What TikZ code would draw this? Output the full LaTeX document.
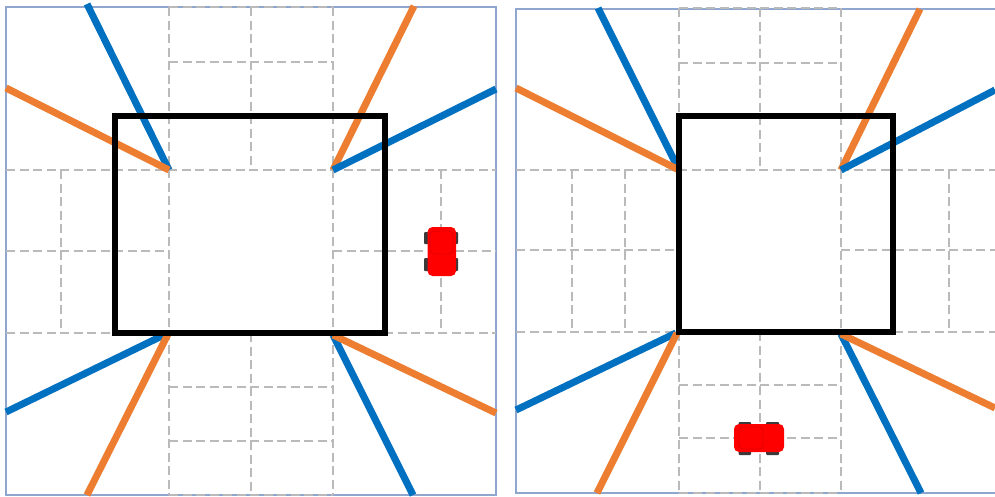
\documentclass[tikz,border=0pt]{standalone}
\definecolor{myblue}{HTML}{0070C0}
\definecolor{myorange}{HTML}{ED7D31}
\definecolor{myframe}{HTML}{8FA6CF}
\definecolor{mydash}{HTML}{BABABA}
\definecolor{mytyre}{HTML}{3A3A3A}
\definecolor{mycabin}{HTML}{E00000}
\tikzset{
  x=1pt,y=-1pt,
  panelframe/.style={draw=myframe,line width=1.3pt},
  grid line/.style={draw=mydash,line width=1.8pt,dash pattern=on 9pt off 4.5pt},
  building/.style={draw=black,line width=5.8pt,line join=miter},
  blue ray/.style={draw=myblue,line width=7pt},
  orange ray/.style={draw=myorange,line width=7pt},
  tyre/.style={fill=mytyre,rounded corners=1pt},
  car body/.style={fill=red,rounded corners=5pt},
  cabin/.style={draw=mycabin,line width=0.8pt,rounded corners=4pt}
}
\begin{document}
\begin{tikzpicture}
\useasboundingbox (0,0) rectangle (995,496);
\fill[white] (0,0) rectangle (995,496);
\clip (0,0) rectangle (995,496);
% ---------- left panel ----------
\draw[panelframe] (6,7) rectangle (496,495);
\draw[grid line] (6,170) -- (496,170);
\draw[grid line] (6,333) -- (496,333);
\draw[grid line] (6,251) -- (169,251);
\draw[grid line] (333,251) -- (496,251);
\draw[grid line] (169,7) -- (169,495);
\draw[grid line] (333,7) -- (333,495);
\draw[grid line] (251,7) -- (251,170);
\draw[grid line] (251,333) -- (251,495);
\draw[grid line] (169,7) -- (333,7);
\draw[grid line] (169,62) -- (333,62);
\draw[grid line] (169,387) -- (333,387);
\draw[grid line] (169,441) -- (333,441);
\draw[grid line] (169,495) -- (333,495);
\draw[grid line] (61,170) -- (61,333);
\draw[grid line] (441,170) -- (441,333);
\draw[blue ray] (87,4) -- (169,170);
\draw[orange ray] (6,88) -- (169,170);
\draw[orange ray] (414,6) -- (333,170);
\draw[blue ray] (496,89) -- (333,170);
\draw[blue ray] (6,412) -- (166,334);
\draw[orange ray] (87,495) -- (168,334);
\draw[blue ray] (413,495) -- (333,335);
\draw[orange ray] (496,413) -- (333,335);
\draw[building] (115,116) rectangle (385,333);
% car, left panel
\fill[tyre] (424,232) rectangle (458,244);
\fill[tyre] (424,258) rectangle (458,271);
\fill[car body] (427.5,227) rectangle (456,276);
\draw[cabin] (430,231) rectangle (453,254);
% ---------- right panel ----------
\draw[panelframe] (516,9) rectangle (1000,493);
\draw[grid line] (516,170) -- (995,170);
\draw[grid line] (516,332) -- (995,332);
\draw[grid line] (516,250) -- (679,250);
\draw[grid line] (841,250) -- (995,250);
\draw[grid line] (679,8) -- (679,493);
\draw[grid line] (841,8) -- (841,493);
\draw[grid line] (760,8) -- (760,170);
\draw[grid line] (760,332) -- (760,493);
\draw[grid line] (679,8) -- (841,8);
\draw[grid line] (679,63) -- (841,63);
\draw[grid line] (679,385) -- (841,385);
\draw[grid line] (679,438) -- (841,438);
\draw[grid line] (679,493) -- (841,493);
\draw[grid line] (572,170) -- (572,332);
\draw[grid line] (625,170) -- (625,332);
\draw[grid line] (949,170) -- (949,332);
\draw[blue ray] (598,8) -- (679,170);
\draw[orange ray] (516,88) -- (679,170);
\draw[orange ray] (920,9) -- (841,170);
\draw[blue ray] (995,90) -- (841,170);
\draw[blue ray] (516,410) -- (676,333);
\draw[orange ray] (597,493) -- (677,333);
\draw[blue ray] (921,493) -- (841,334);
\draw[orange ray] (995,408) -- (841,334);
\draw[building] (679,116) rectangle (893,332);
% car, right panel
\fill[tyre] (738.5,422) rectangle (751,455);
\fill[tyre] (766,422) rectangle (779,455);
\fill[car body] (734,424) rectangle (784,452);
\draw[cabin] (739,427) rectangle (763,449);
\end{tikzpicture}
\end{document}
